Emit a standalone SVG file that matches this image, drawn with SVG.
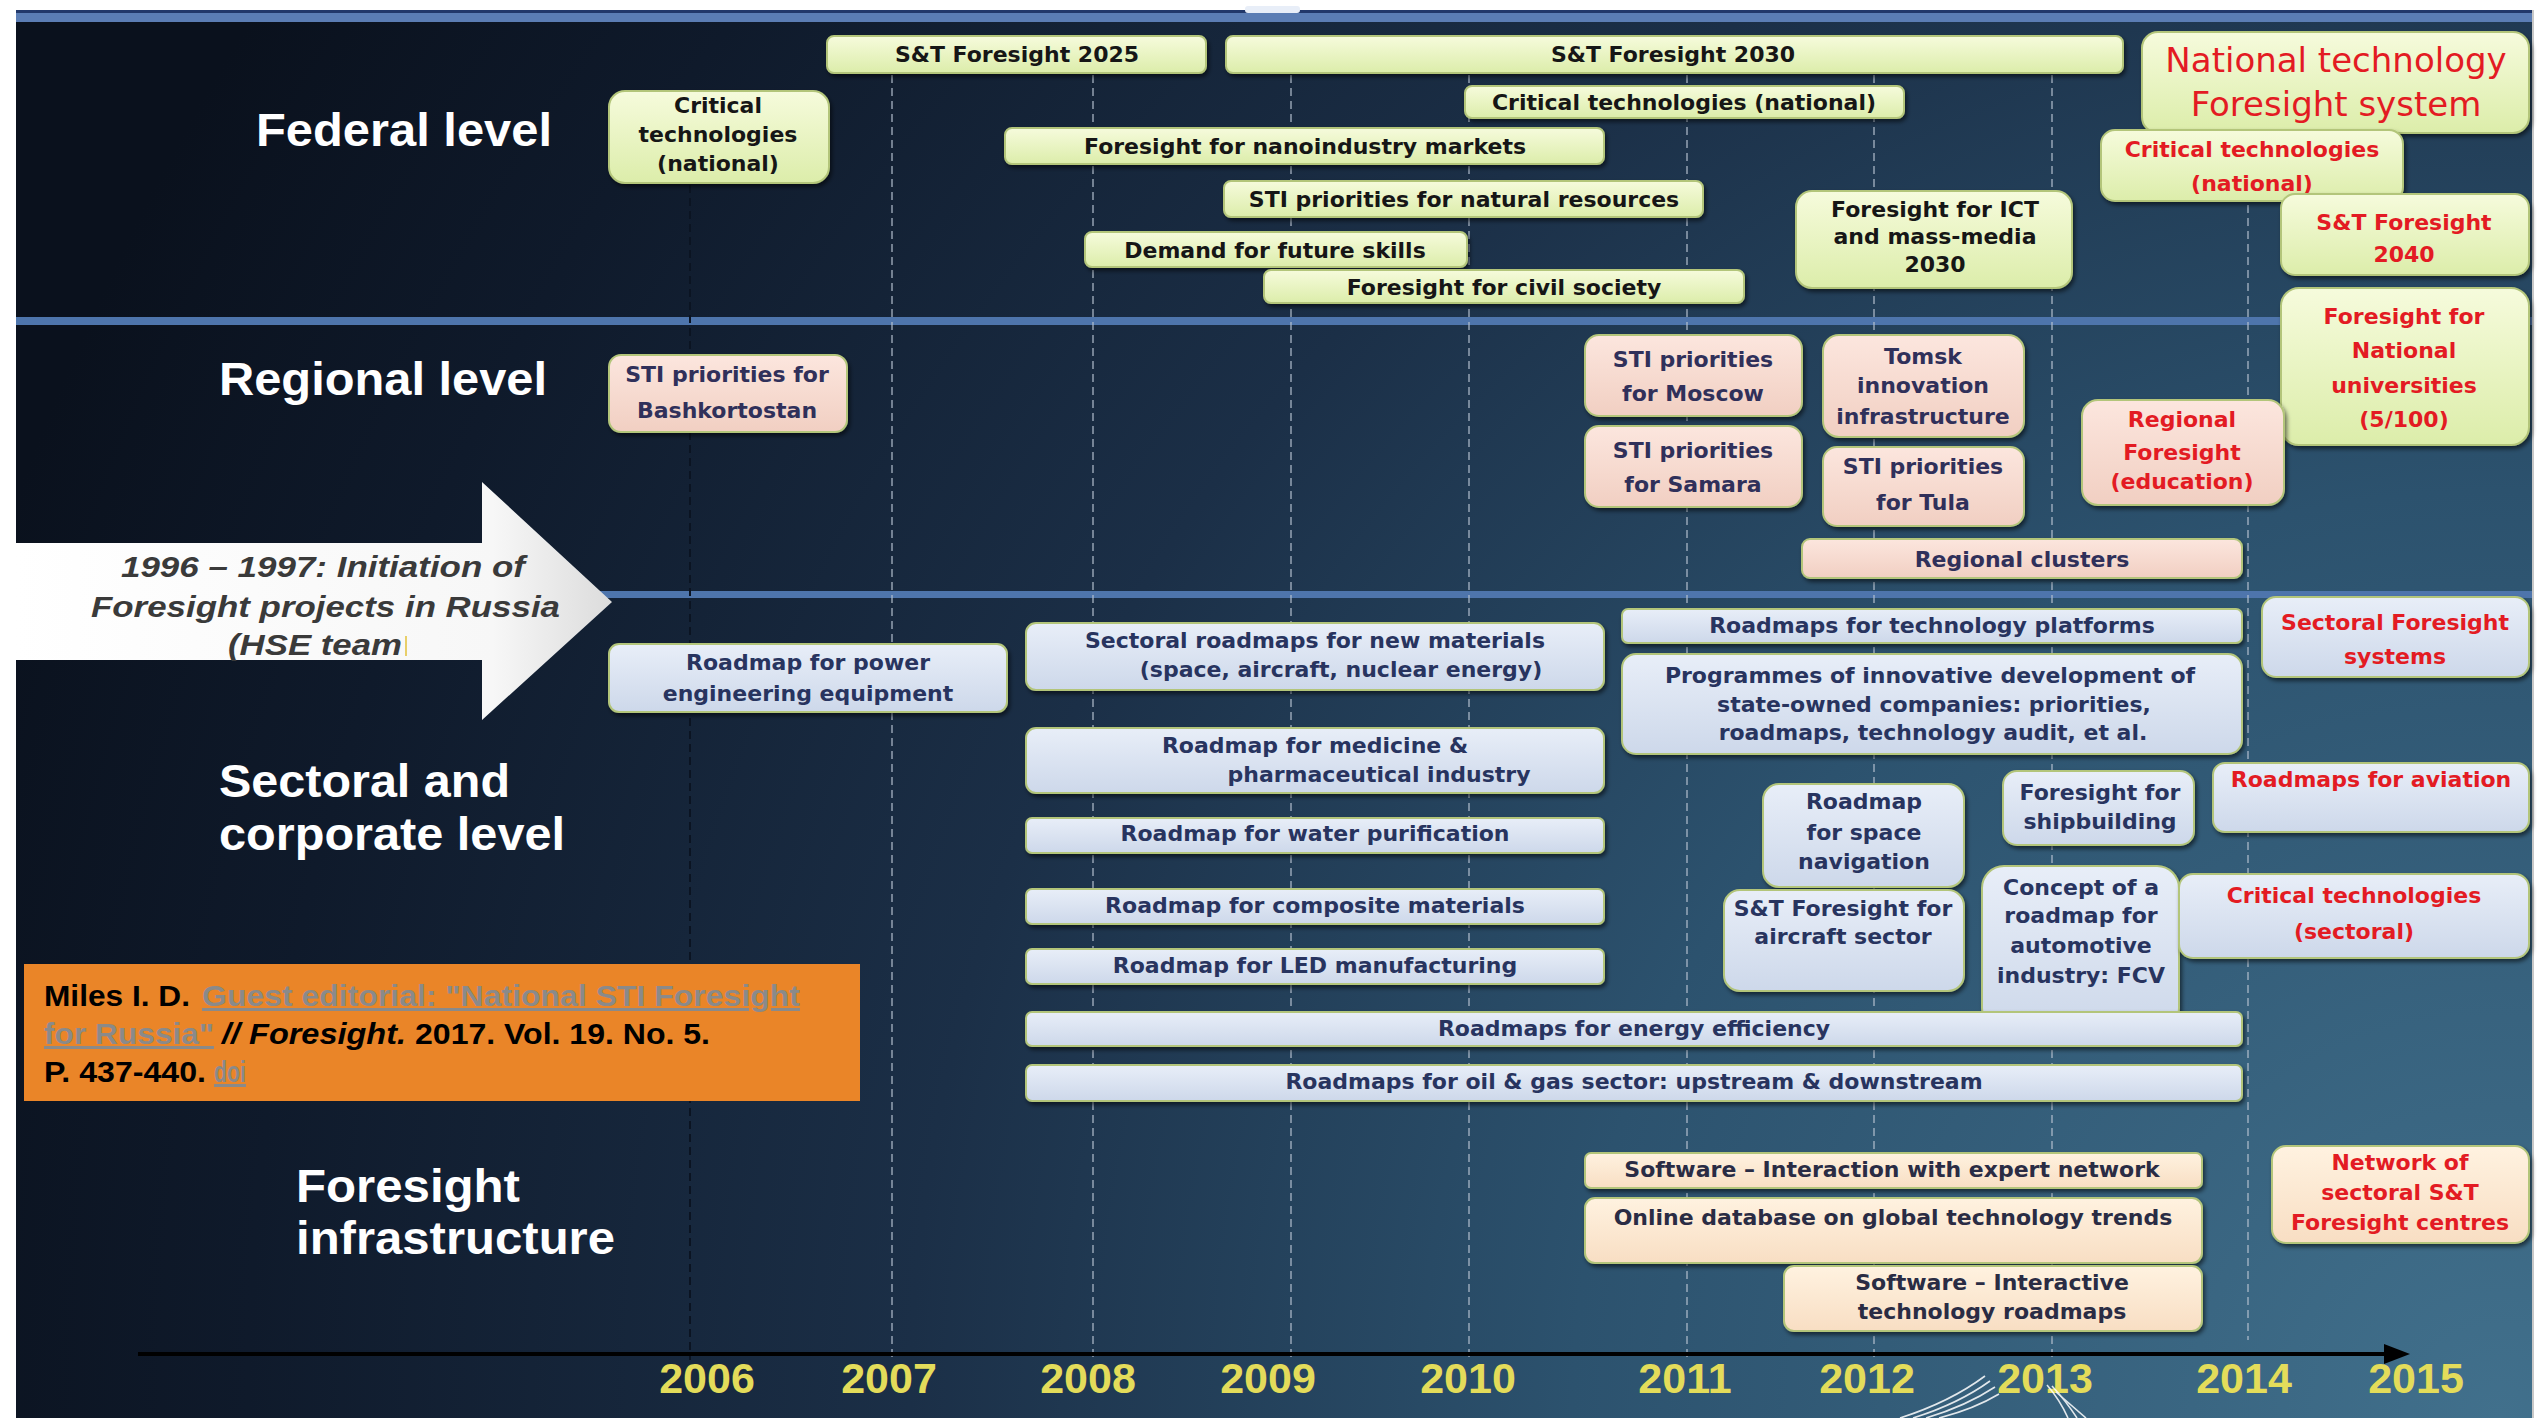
<svg xmlns="http://www.w3.org/2000/svg" width="2539" height="1418" viewBox="0 0 2539 1418">
<defs>
<radialGradient id="bg" gradientUnits="userSpaceOnUse" cx="2500" cy="1418" r="2650">
<stop offset="0" stop-color="#41708c"/>
<stop offset="0.35" stop-color="#2c526e"/>
<stop offset="0.6" stop-color="#1b2f47"/>
<stop offset="0.85" stop-color="#0f1a2b"/>
<stop offset="1" stop-color="#0a111d"/>
</radialGradient>
<linearGradient id="gFed" x1="0" y1="0" x2="0" y2="1"><stop offset="0" stop-color="#f6fbdc"/><stop offset="1" stop-color="#dcedaa"/></linearGradient>
<linearGradient id="gReg" x1="0" y1="0" x2="0" y2="1"><stop offset="0" stop-color="#fce6de"/><stop offset="1" stop-color="#f1cfc2"/></linearGradient>
<linearGradient id="gSec" x1="0" y1="0" x2="0" y2="1"><stop offset="0" stop-color="#e8eef8"/><stop offset="1" stop-color="#cdd8ea"/></linearGradient>
<linearGradient id="gInf" x1="0" y1="0" x2="0" y2="1"><stop offset="0" stop-color="#fff2e0"/><stop offset="1" stop-color="#f8dec3"/></linearGradient>
<linearGradient id="gArrow" x1="0" y1="0" x2="1" y2="0"><stop offset="0" stop-color="#ffffff"/><stop offset="0.8" stop-color="#f7f7f7"/><stop offset="1" stop-color="#dcdcdc"/></linearGradient>
<filter id="sh" x="-5%" y="-15%" width="110%" height="140%"><feDropShadow dx="2" dy="3" stdDeviation="2" flood-color="#000" flood-opacity="0.55"/></filter>
</defs>
<style>
.box{stroke:#b3c57a;stroke-width:2;filter:url(#sh)}
.fed{fill:url(#gFed)}
.reg{fill:url(#gReg)}
.sec{fill:url(#gSec)}
.inf{fill:url(#gInf)}
.t{font-family:"DejaVu Sans","Liberation Sans",sans-serif;font-weight:bold;font-size:22px;text-anchor:middle}
.k{fill:#161616}
.r{fill:#e31b23}
.n{fill:#28345f}
.p{fill:#30305a}
.d{fill:#2a2c44}
.lvl{font-family:"Liberation Sans",Arial,sans-serif;font-weight:bold;font-size:46px;fill:#ffffff}
.yr{font-family:"Liberation Sans",Arial,sans-serif;font-weight:bold;font-size:43px;fill:#e3dc5a;text-anchor:middle}
.grid{stroke:#b4c0cf;stroke-width:2;stroke-dasharray:8 5;opacity:0.6;fill:none}
.sep{fill:#4e75ac}
.cit{font-family:"Liberation Sans",Arial,sans-serif;font-size:30px;font-weight:bold}
.lnk{fill:#8a8a8a;text-decoration:underline}
.arr{font-family:"Liberation Sans",Arial,sans-serif;font-style:italic;font-weight:bold;font-size:30px;fill:#3a3a3a}
</style>

<rect x="0" y="0" width="2539" height="1418" fill="#ffffff"/>
<rect x="16" y="10" width="2516" height="1408" fill="url(#bg)"/>
<rect x="2532" y="10" width="2" height="1408" fill="#c8c8c8"/>

<g id="bands">
<rect x="16" y="10" width="2516" height="3" fill="#22386a"/>
<rect x="16" y="13" width="2516" height="9" fill="#5b7db4"/>
<rect x="1245" y="6" width="55" height="7" rx="3" fill="#e8eef8"/>
<rect class="sep" x="16" y="317" width="2516" height="8"/>
<rect class="sep" x="600" y="591" width="1932" height="7"/>
</g>

<g id="grid">
<line x1="690" y1="185" x2="690" y2="1360" stroke="#0b1422" stroke-width="2" stroke-dasharray="8 5"/>
<line class="grid" x1="892" y1="75" x2="892" y2="1360"/>
<line class="grid" x1="1093" y1="75" x2="1093" y2="1360"/>
<line class="grid" x1="1291" y1="75" x2="1291" y2="1360"/>
<line class="grid" x1="1469" y1="75" x2="1469" y2="1360"/>
<line class="grid" x1="1687" y1="75" x2="1687" y2="1360"/>
<line class="grid" x1="1874" y1="75" x2="1874" y2="1360"/>
<line class="grid" x1="2052" y1="75" x2="2052" y2="1360"/>
<line class="grid" x1="2248" y1="75" x2="2248" y2="1340"/>
</g>

<g id="levels">
<text class="lvl" x="256" y="146" textLength="296" lengthAdjust="spacingAndGlyphs">Federal level</text>
<text class="lvl" x="219" y="395" textLength="328" lengthAdjust="spacingAndGlyphs">Regional level</text>
<text class="lvl" x="219" y="797" textLength="291" lengthAdjust="spacingAndGlyphs">Sectoral and</text>
<text class="lvl" x="219" y="850" textLength="346" lengthAdjust="spacingAndGlyphs">corporate level</text>
<text class="lvl" x="296" y="1202" textLength="224" lengthAdjust="spacingAndGlyphs">Foresight</text>
<text class="lvl" x="296" y="1254" textLength="319" lengthAdjust="spacingAndGlyphs">infrastructure</text>
</g>

<g id="initiation-arrow">
<polygon points="16,543 482,543 482,482 612,602 482,720 482,660 16,660" fill="url(#gArrow)"/>
<text class="arr" x="121" y="577" textLength="404" lengthAdjust="spacingAndGlyphs">1996 – 1997: Initiation of</text>
<text class="arr" x="91" y="617" textLength="469" lengthAdjust="spacingAndGlyphs">Foresight projects in Russia</text>
<text class="arr" x="228" y="655" textLength="174" lengthAdjust="spacingAndGlyphs">(HSE team</text>
<line x1="406" y1="636" x2="406" y2="656" stroke="#e8cf6a" stroke-width="2"/>
</g>

<g id="n-st2025"><rect class="box fed" x="827" y="36" width="379" height="37" rx="7"/><text class="t k" x="1017" y="62">S&amp;T Foresight 2025</text></g>
<g id="n-st2030"><rect class="box fed" x="1226" y="36" width="897" height="37" rx="7"/><text class="t k" x="1673" y="62">S&amp;T Foresight 2030</text></g>
<g id="n-crit-nat-2006"><rect class="box fed" x="609" y="91" width="220" height="92" rx="16"/><text class="t k" x="718" y="113">Critical</text><text class="t k" x="718" y="142">technologies</text><text class="t k" x="718" y="171">(national)</text></g>
<g id="n-crit-nat"><rect class="box fed" x="1465" y="86" width="439" height="32" rx="7"/><text class="t k" x="1684" y="110">Critical technologies (national)</text></g>
<g id="n-nano"><rect class="box fed" x="1005" y="128" width="599" height="36" rx="7"/><text class="t k" x="1305" y="154">Foresight for nanoindustry markets</text></g>
<g id="n-natres"><rect class="box fed" x="1224" y="181" width="479" height="36" rx="7"/><text class="t k" x="1464" y="207">STI priorities for natural resources</text></g>
<g id="n-skills"><rect class="box fed" x="1085" y="232" width="382" height="35" rx="7"/><text class="t k" x="1275" y="258">Demand for future skills</text></g>
<g id="n-civil"><rect class="box fed" x="1264" y="270" width="480" height="33" rx="7"/><text class="t k" x="1504" y="295">Foresight for civil society</text></g>
<g id="n-ict"><rect class="box fed" x="1796" y="191" width="276" height="97" rx="16"/><text class="t k" x="1935" y="217">Foresight for ICT</text><text class="t k" x="1935" y="244">and mass-media</text><text class="t k" x="1935" y="272">2030</text></g>

<g id="n-ntfs"><rect class="box fed" x="2142" y="32" width="387" height="101" rx="16"/><text class="t r" style="font-weight:normal;font-size:34px" x="2336" y="72">National technology</text><text class="t r" style="font-weight:normal;font-size:34px" x="2336" y="116">Foresight system</text></g>
<g id="n-crit-nat-new"><rect class="box fed" x="2101" y="130" width="302" height="71" rx="14"/><text class="t r" x="2252" y="157">Critical technologies</text><text class="t r" x="2252" y="191">(national)</text></g>
<g id="n-st2040"><rect class="box fed" x="2281" y="194" width="248" height="81" rx="14"/><text class="t r" x="2404" y="230">S&amp;T Foresight</text><text class="t r" x="2404" y="262">2040</text></g>
<g id="n-univ"><rect class="box fed" x="2281" y="288" width="248" height="157" rx="18"/><text class="t r" x="2404" y="324">Foresight for</text><text class="t r" x="2404" y="358">National</text><text class="t r" x="2404" y="393">universities</text><text class="t r" x="2404" y="427">(5/100)</text></g>

<g id="n-bash"><rect class="box reg" x="609" y="355" width="238" height="77" rx="12"/><text class="t p" x="727" y="382">STI priorities for</text><text class="t p" x="727" y="418">Bashkortostan</text></g>
<g id="n-moscow"><rect class="box reg" x="1585" y="335" width="217" height="81" rx="14"/><text class="t p" x="1693" y="367">STI priorities</text><text class="t p" x="1693" y="401">for Moscow</text></g>
<g id="n-samara"><rect class="box reg" x="1585" y="426" width="217" height="81" rx="14"/><text class="t p" x="1693" y="458">STI priorities</text><text class="t p" x="1693" y="492">for Samara</text></g>
<g id="n-tomsk"><rect class="box reg" x="1823" y="335" width="201" height="102" rx="16"/><text class="t p" x="1923" y="364">Tomsk</text><text class="t p" x="1923" y="393">innovation</text><text class="t p" x="1923" y="424">infrastructure</text></g>
<g id="n-tula"><rect class="box reg" x="1823" y="447" width="201" height="79" rx="14"/><text class="t p" x="1923" y="474">STI priorities</text><text class="t p" x="1923" y="510">for Tula</text></g>
<g id="n-regedu"><rect class="box reg" x="2082" y="400" width="202" height="105" rx="16"/><text class="t r" x="2182" y="427">Regional</text><text class="t r" x="2182" y="460">Foresight</text><text class="t r" x="2182" y="489">(education)</text></g>
<g id="n-clusters"><rect class="box reg" x="1802" y="539" width="440" height="39" rx="8"/><text class="t p" x="2022" y="567">Regional clusters</text></g>

<g id="n-power"><rect class="box sec" x="609" y="644" width="398" height="68" rx="10"/><text class="t n" x="808" y="670">Roadmap for power</text><text class="t n" x="808" y="701">engineering equipment</text></g>
<g id="n-materials"><rect class="box sec" x="1026" y="623" width="578" height="67" rx="10"/><text class="t n" x="1315" y="648">Sectoral roadmaps for new materials</text><text class="t n" x="1341" y="677">(space, aircraft, nuclear energy)</text></g>
<g id="n-medicine"><rect class="box sec" x="1026" y="728" width="578" height="65" rx="10"/><text class="t n" x="1315" y="753">Roadmap for medicine &amp;</text><text class="t n" x="1379" y="782">pharmaceutical industry</text></g>
<g id="n-water"><rect class="box sec" x="1026" y="818" width="578" height="35" rx="6"/><text class="t n" x="1315" y="841">Roadmap for water purification</text></g>
<g id="n-composite"><rect class="box sec" x="1026" y="889" width="578" height="35" rx="6"/><text class="t n" x="1315" y="913">Roadmap for composite materials</text></g>
<g id="n-led"><rect class="box sec" x="1026" y="949" width="578" height="35" rx="6"/><text class="t n" x="1315" y="973">Roadmap for LED manufacturing</text></g>
<g id="n-platforms"><rect class="box sec" x="1622" y="609" width="620" height="34" rx="6"/><text class="t n" x="1932" y="633">Roadmaps for technology platforms</text></g>
<g id="n-programmes"><rect class="box sec" x="1622" y="654" width="620" height="100" rx="14"/><text class="t n" x="1930" y="683">Programmes of innovative development of</text><text class="t n" x="1934" y="712">state-owned companies: priorities,</text><text class="t n" x="1933" y="740">roadmaps, technology audit, et al.</text></g>
<g id="n-sectsys"><rect class="box sec" x="2262" y="597" width="267" height="80" rx="14"/><text class="t r" x="2395" y="630">Sectoral Foresight</text><text class="t r" x="2395" y="664">systems</text></g>
<g id="n-aviation"><rect class="box sec" x="2213" y="763" width="316" height="69" rx="12"/><text class="t r" x="2371" y="787">Roadmaps for aviation</text></g>
<g id="n-spacenav"><rect class="box sec" x="1763" y="784" width="201" height="103" rx="16"/><text class="t n" x="1864" y="809">Roadmap</text><text class="t n" x="1864" y="840">for space</text><text class="t n" x="1864" y="869">navigation</text></g>
<g id="n-ship"><rect class="box sec" x="2003" y="771" width="191" height="74" rx="14"/><text class="t n" x="2100" y="800">Foresight for</text><text class="t n" x="2100" y="829">shipbuilding</text></g>
<g id="n-aircraft"><rect class="box sec" x="1724" y="890" width="240" height="101" rx="16"/><text class="t n" x="1843" y="916">S&amp;T Foresight for</text><text class="t n" x="1843" y="944">aircraft sector</text></g>
<g id="n-fcv"><rect class="box sec" x="1982" y="866" width="197" height="164" rx="22"/><text class="t n" x="2081" y="895">Concept of a</text><text class="t n" x="2081" y="923">roadmap for</text><text class="t n" x="2081" y="953">automotive</text><text class="t n" x="2081" y="983">industry: FCV</text></g>
<g id="n-crit-sect"><rect class="box sec" x="2179" y="874" width="350" height="84" rx="14"/><text class="t r" x="2354" y="903">Critical technologies</text><text class="t r" x="2354" y="939">(sectoral)</text></g>
<g id="n-energy"><rect class="box sec" x="1026" y="1012" width="1216" height="34" rx="6"/><text class="t n" x="1634" y="1036">Roadmaps for energy efficiency</text></g>
<g id="n-oilgas"><rect class="box sec" x="1026" y="1065" width="1216" height="36" rx="6"/><text class="t n" x="1634" y="1089">Roadmaps for oil &amp; gas sector: upstream &amp; downstream</text></g>

<g id="n-sw-expert"><rect class="box inf" x="1585" y="1153" width="617" height="35" rx="6"/><text class="t d" x="1892" y="1177">Software –  Interaction with expert network</text></g>
<g id="n-onlinedb"><rect class="box inf" x="1585" y="1198" width="617" height="65" rx="10"/><text class="t d" x="1893" y="1225">Online database on global technology trends</text></g>
<g id="n-sw-roadmaps"><rect class="box inf" x="1784" y="1266" width="418" height="65" rx="10"/><text class="t d" x="1992" y="1290">Software – Interactive</text><text class="t d" x="1992" y="1319">technology roadmaps</text></g>
<g id="n-network"><rect class="box inf" x="2272" y="1146" width="257" height="97" rx="14"/><text class="t r" x="2400" y="1170">Network of</text><text class="t r" x="2400" y="1200">sectoral S&amp;T</text><text class="t r" x="2400" y="1230">Foresight centres</text></g>

<g id="connectors">
<line x1="138" y1="1354" x2="2388" y2="1354" stroke="#000000" stroke-width="4"/>
<polygon points="2384,1344 2410,1354 2384,1364" fill="#000000"/>
</g>

<g id="years">
<text class="yr" x="707" y="1393">2006</text>
<text class="yr" x="889" y="1393">2007</text>
<text class="yr" x="1088" y="1393">2008</text>
<text class="yr" x="1268" y="1393">2009</text>
<text class="yr" x="1468" y="1393">2010</text>
<text class="yr" x="1685" y="1393">2011</text>
<text class="yr" x="1867" y="1393">2012</text>
<text class="yr" x="2045" y="1393">2013</text>
<text class="yr" x="2244" y="1393">2014</text>
<text class="yr" x="2416" y="1393">2015</text>
</g>

<g id="swoosh" fill="none" stroke="#ffffff" stroke-width="1.6" opacity="0.85">
<path d="M1900 1418 Q1950 1402 1985 1376"/>
<path d="M1913 1418 Q1958 1404 1990 1381"/>
<path d="M1926 1418 Q1966 1406 1995 1387"/>
<path d="M1939 1418 Q1974 1409 1999 1394"/>
<path d="M2047 1385 Q2060 1400 2068 1418"/>
<path d="M2052 1386 Q2066 1401 2077 1418"/>
<path d="M2056 1392 Q2071 1405 2086 1418"/>
</g>

<g id="citation">
<rect x="24" y="964" width="836" height="137" fill="#ea8528"/>
<text class="cit" x="44" y="1006" fill="#000" textLength="146" lengthAdjust="spacingAndGlyphs">Miles I. D.</text>
<text class="cit lnk" x="202" y="1006" textLength="598" lengthAdjust="spacingAndGlyphs">Guest editorial: "National STI Foresight</text>
<text class="cit lnk" x="44" y="1044" textLength="170" lengthAdjust="spacingAndGlyphs">for Russia"</text>
<text class="cit" x="222" y="1044" fill="#000" font-style="italic" textLength="184" lengthAdjust="spacingAndGlyphs">// Foresight.</text>
<text class="cit" x="415" y="1044" fill="#000" textLength="295" lengthAdjust="spacingAndGlyphs">2017. Vol. 19. No. 5.</text>
<text class="cit" x="44" y="1082" fill="#000" textLength="162" lengthAdjust="spacingAndGlyphs">P. 437-440.</text>
<text class="cit lnk" x="214" y="1082" font-size="20" textLength="32" lengthAdjust="spacingAndGlyphs">doi</text>
</g>
</svg>
